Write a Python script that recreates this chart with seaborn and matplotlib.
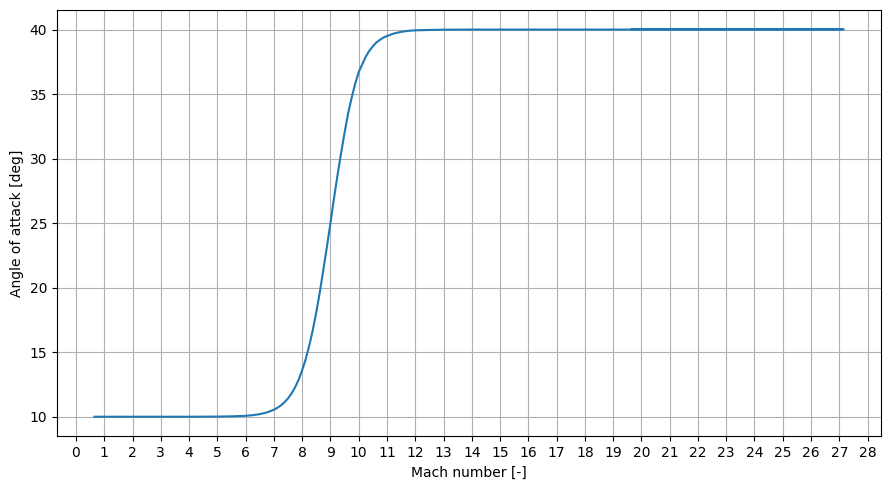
import numpy as np
import pandas as pd
import matplotlib
matplotlib.use("Agg")
import matplotlib.pyplot as plt
import seaborn as sns

# Mach number / angle of attack (ascent)
mach_up = [0.65, 1, 2, 3, 4, 5, 5.5, 6, 6.25, 6.5, 6.75, 7, 7.125, 7.25,
           7.375, 7.5, 7.625, 7.75, 7.875, 8, 8.125, 8.25, 8.375, 8.5,
           8.625, 8.75, 8.875, 9, 9.125, 9.25, 9.375, 9.5, 9.625, 9.75,
           9.875, 10, 10.125, 10.25, 10.375, 10.5, 10.625, 10.75, 10.875,
           11, 11.25, 11.5, 11.75, 12, 12.5, 13, 14, 16, 18, 20, 22, 24, 26,
           27.15]
alpha_up = [10.0, 10.0, 10.0, 10.0, 10.0, 10.01, 10.03, 10.07, 10.12, 10.2,
            10.33, 10.54, 10.69, 10.88, 11.12, 11.42, 11.8, 12.28, 12.86,
            13.6, 14.45, 15.5, 16.7, 18.1, 19.65, 21.4, 23.15, 25.0, 26.9,
            28.7, 30.4, 32.0, 33.5, 34.7, 35.8, 36.7, 37.3, 37.9, 38.35,
            38.7, 39.0, 39.2, 39.38, 39.5, 39.7, 39.82, 39.9, 39.94, 39.97,
            39.99, 40.0, 40.0, 40.0, 40.0, 40.0, 40.0, 40.0, 40.0]

# return leg near the top, drawn over the same values
mach_back = [27.15, 24, 22, 19.66]
alpha_back = [40.03, 40.03, 40.03, 40.03]

mach = mach_up + mach_back
alpha = alpha_up + alpha_back
df = pd.DataFrame({"mach": mach, "alpha": alpha})

fig, ax = plt.subplots(figsize=(8.89, 4.9), dpi=100)
sns.lineplot(data=df, x="mach", y="alpha", sort=False, estimator=None,
             color="#1f77b4", linewidth=1.5, ax=ax)

ax.set_xticks(np.arange(0, 29, 1))
ax.set_xlabel("Mach number [-]")
ax.set_ylabel("Angle of attack [deg]")
ax.grid(True, color="#b0b0b0", linewidth=0.8)
fig.subplots_adjust(left=0.064, right=0.991, top=0.98, bottom=0.11)
plt.savefig("out.png", dpi=100)
